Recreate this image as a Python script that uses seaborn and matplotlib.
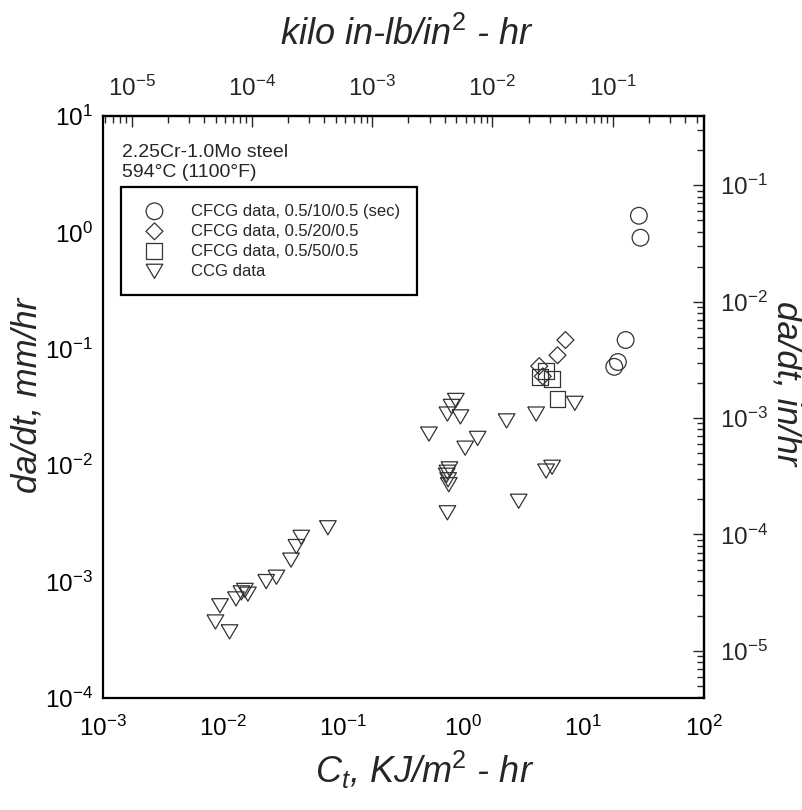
import numpy as np
import pandas as pd
import matplotlib
matplotlib.use("Agg")
import matplotlib.pyplot as plt
import seaborn as sns
from matplotlib.ticker import (LogLocator, FixedLocator, LogFormatterSciNotation,
                               NullFormatter)

# Ct (KJ/m^2-hr) vs da/dt (mm/hr)
cfcg10_ct = [29.0, 29.9, 22.5, 19.4, 18.1]
cfcg10_rate = [1.39, 0.90, 0.119, 0.077, 0.070]

cfcg20_ct = [7.1, 6.1, 4.3, 4.6]
cfcg20_rate = [0.119, 0.088, 0.071, 0.058]

cfcg50_ct = [4.4, 4.9, 5.5, 6.1]
cfcg50_rate = [0.057, 0.064, 0.055, 0.037]

ccg_ct = [8.5, 4.05, 2.3, 0.87, 0.80, 0.74, 0.95, 0.52, 1.32, 1.04,
          0.77, 0.74, 0.73, 0.75, 0.76, 0.74, 5.5, 4.9, 2.9,
          0.075, 0.045, 0.041, 0.037, 0.028, 0.023, 0.0153, 0.0162,
          0.0143, 0.0129, 0.0095, 0.0087, 0.0114]
ccg_rate = [0.034, 0.0275, 0.024, 0.036, 0.032, 0.0275, 0.026, 0.0185, 0.017, 0.014,
            0.0093, 0.0087, 0.0082, 0.0075, 0.0068, 0.0039, 0.0096, 0.0089, 0.0049,
            0.0029, 0.0024, 0.0020, 0.00153, 0.00109, 0.00100, 0.00084, 0.00078,
            0.00080, 0.00071, 0.00062, 0.00045, 0.00037]

series_labels = ["CFCG data, 0.5/10/0.5 (sec)", "CFCG data, 0.5/20/0.5",
                 "CFCG data, 0.5/50/0.5", "CCG data"]

# decades labelled on the twin axes (kilo in-lb/in^2-hr and in/hr)
top_decades = [1e-5, 1e-4, 1e-3, 1e-2, 1e-1]
right_decades = [1e-5, 1e-4, 1e-3, 1e-2, 1e-1]

# unit conversions for the twin axes
KJ_M2_TO_KILO_INLB_IN2 = 0.0057101
MM_TO_IN = 1 / 25.4

df = pd.concat([
    pd.DataFrame({"ct": cfcg10_ct, "rate": cfcg10_rate, "series": series_labels[0]}),
    pd.DataFrame({"ct": cfcg20_ct, "rate": cfcg20_rate, "series": series_labels[1]}),
    pd.DataFrame({"ct": cfcg50_ct, "rate": cfcg50_rate, "series": series_labels[2]}),
    pd.DataFrame({"ct": ccg_ct, "rate": ccg_rate, "series": series_labels[3]}),
], ignore_index=True)

sns.set_style("white")
plt.rcParams["font.family"] = ["Liberation Sans", "DejaVu Sans"]
plt.rcParams.update({
    "mathtext.fontset": "custom",
    "mathtext.rm": "Liberation Sans",
    "mathtext.it": "Liberation Sans:italic",
    "mathtext.bf": "Liberation Sans:bold",
    "axes.unicode_minus": False,
})

fig = plt.figure(figsize=(8.02, 8.10), dpi=100)
ax = fig.add_axes([102.5 / 802, 1 - 698 / 810, 601 / 802, 582 / 810])

tri_down = [(-1, 0.85), (1, 0.85), (0, -0.85), (-1, 0.85)]
markers = dict(zip(series_labels, ["o", "D", "s", tri_down]))
sizes = dict(zip(series_labels, [144, 74, 132, 144]))
edge = "#333333"

for lab in series_labels:
    sub = df[df["series"] == lab]
    sns.scatterplot(data=sub, x="ct", y="rate", marker=markers[lab], s=sizes[lab],
                    color=edge, edgecolor=edge, facecolors="none", linewidth=0.9,
                    label=lab, ax=ax)

ax.set_xscale("log")
ax.set_yscale("log")
ax.set_xlim(1e-3, 1e2)
ax.set_ylim(1e-4, 1e1)
ax.set_xlabel("")
ax.set_ylabel("")

tick_fs = 17.5
for axis in (ax.xaxis, ax.yaxis):
    axis.set_major_locator(LogLocator(base=10, numticks=20))
    axis.set_minor_locator(LogLocator(base=10, subs=np.arange(2, 10), numticks=100))
    axis.set_major_formatter(LogFormatterSciNotation())
    axis.set_minor_formatter(NullFormatter())
ax.tick_params(which="both", direction="in", top=False, right=False,
               labelsize=tick_fs, width=1, colors="black")
ax.tick_params(which="major", length=8)
ax.tick_params(which="minor", length=5)
ax.tick_params(axis="x", pad=13)
ax.tick_params(axis="y", pad=7)


def minor_between(lo, hi):
    vals = [m * 10.0 ** e for e in range(-7, 2) for m in range(2, 10)]
    return [v for v in vals if lo < v < hi]


secx = ax.secondary_xaxis("top", functions=(lambda x: x * KJ_M2_TO_KILO_INLB_IN2,
                                            lambda x: x / KJ_M2_TO_KILO_INLB_IN2))
secy = ax.secondary_yaxis("right", functions=(lambda y: y * MM_TO_IN,
                                              lambda y: y / MM_TO_IN))
secx.xaxis.set_major_locator(FixedLocator(top_decades))
secx.xaxis.set_minor_locator(FixedLocator(minor_between(1e-3 * KJ_M2_TO_KILO_INLB_IN2,
                                                        1e2 * KJ_M2_TO_KILO_INLB_IN2)))
secy.yaxis.set_major_locator(FixedLocator(right_decades))
secy.yaxis.set_minor_locator(FixedLocator(minor_between(1e-4 * MM_TO_IN, 1e1 * MM_TO_IN)))
for sec, axis, pad in ((secx, secx.xaxis, 11), (secy, secy.yaxis, 12)):
    axis.set_major_formatter(LogFormatterSciNotation())
    axis.set_minor_formatter(NullFormatter())
    sec.tick_params(which="both", direction="in", labelsize=tick_fs, width=1, pad=pad)
    sec.tick_params(which="major", length=8)
    sec.tick_params(which="minor", length=5)
    for sp in sec.spines.values():
        sp.set_linewidth(1.6)

for sp in ax.spines.values():
    sp.set_visible(True)
    sp.set_linewidth(1.6)
    sp.set_color("black")

leg = ax.legend(loc="upper left", bbox_to_anchor=(0.031, 0.878), borderaxespad=0,
                frameon=True, fancybox=False, edgecolor="black", fontsize=12,
                handlelength=2.0, handletextpad=1.2, borderpad=1.0,
                labelspacing=0.3, scatterpoints=1, framealpha=1)
leg.get_frame().set_linewidth(1.6)

ax.text(0.032, 0.952, "2.25Cr-1.0Mo steel\n594°C (1100°F)", transform=ax.transAxes,
        va="top", ha="left", fontsize=14, linespacing=1.2)

label_fs = 25
fig.text(407 / 802, 1 - 35 / 810, r"kilo in-lb/in$^2$ - hr", ha="center", va="center",
         fontsize=26, style="italic")
fig.text(425 / 802, 1 - 770 / 810, r"$C_t$, KJ/m$^2$ - hr", ha="center", va="center",
         fontsize=26, style="italic")
fig.text(27 / 802, 1 - 395 / 810, "da/dt, mm/hr", ha="center", va="center",
         fontsize=label_fs, style="italic", rotation=90)
fig.text(787 / 802, 1 - 383 / 810, "da/dt, in/hr", ha="center", va="center",
         fontsize=label_fs, style="italic", rotation=270)

fig.savefig("out.png", dpi=100)
